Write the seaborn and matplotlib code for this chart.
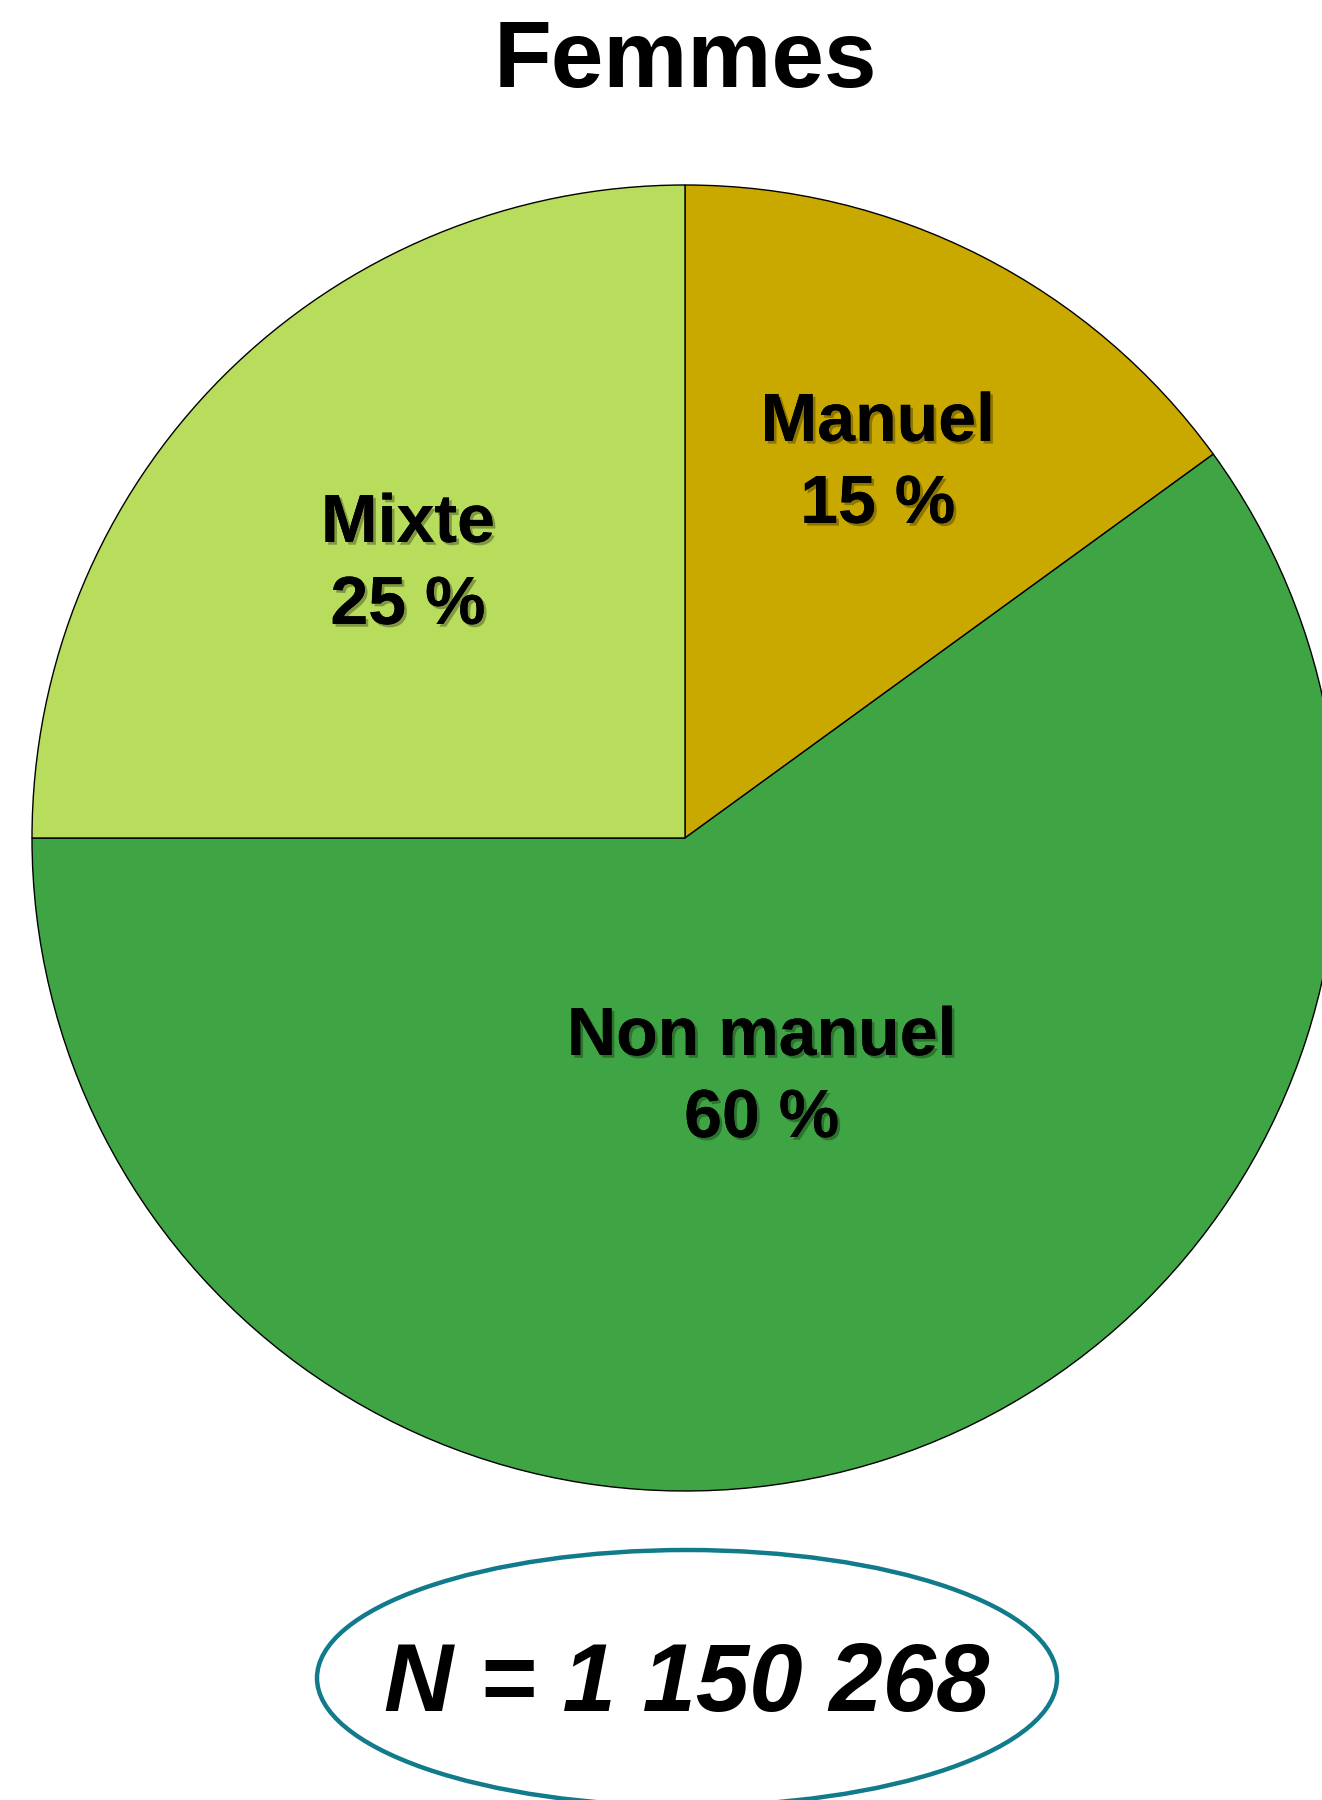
import numpy as np
import seaborn as sns
import matplotlib.pyplot as plt
import matplotlib.patheffects as pe
from matplotlib.patches import Ellipse

categories = ['Manuel', 'Non manuel', 'Mixte']
shares = [15, 60, 25]
colors = ['#C9A800', '#3FA544', '#B8DC5C']
label_dist = [0.65, 0.38, 0.60]
title = 'Femmes'
total_n = 'N = 1 150 268'

sns.set_theme(style='white')
plt.rcParams['font.family'] = ['Liberation Sans', 'DejaVu Sans']

fig = plt.figure(figsize=(13.22, 18), dpi=100)
ax = fig.add_axes([0, 0, 1, 1])

cx, cy, r = 685, 962, 653
wedges, _ = ax.pie(shares, colors=colors, startangle=90, counterclock=False,
                   radius=r, center=(cx, cy), frame=True,
                   wedgeprops=dict(edgecolor='black', linewidth=1.0))
ax.set_xlim(0, 1322)
ax.set_ylim(0, 1800)
ax.set_aspect('equal')
ax.axis('off')

# labels with a soft drop shadow
shadow = [pe.withSimplePatchShadow(offset=(2, -2), shadow_rgbFace='black', alpha=0.3), pe.Normal()]
for w, name, val, d in zip(wedges, categories, shares, label_dist):
    mid = np.deg2rad((w.theta1 + w.theta2) / 2)
    x = cx + d * r * np.cos(mid)
    y = cy + d * r * np.sin(mid)
    ax.text(x, y - 4, f'{name}\n{val} %', ha='center', va='center', fontsize=49,
            fontweight='bold', linespacing=1.36, color='black', path_effects=shadow)

ax.text(685, 1737, title, ha='center', va='center', fontsize=68,
        fontweight='bold', color='black')

ell = Ellipse((687, 122), 740, 256, facecolor='white', edgecolor='#117A8B', linewidth=3.2)
ax.add_patch(ell)
ax.text(687, 114, total_n, ha='center', va='center', fontsize=69,
        fontweight='bold', fontstyle='italic', color='black')

fig.savefig('out.png', dpi=100)
